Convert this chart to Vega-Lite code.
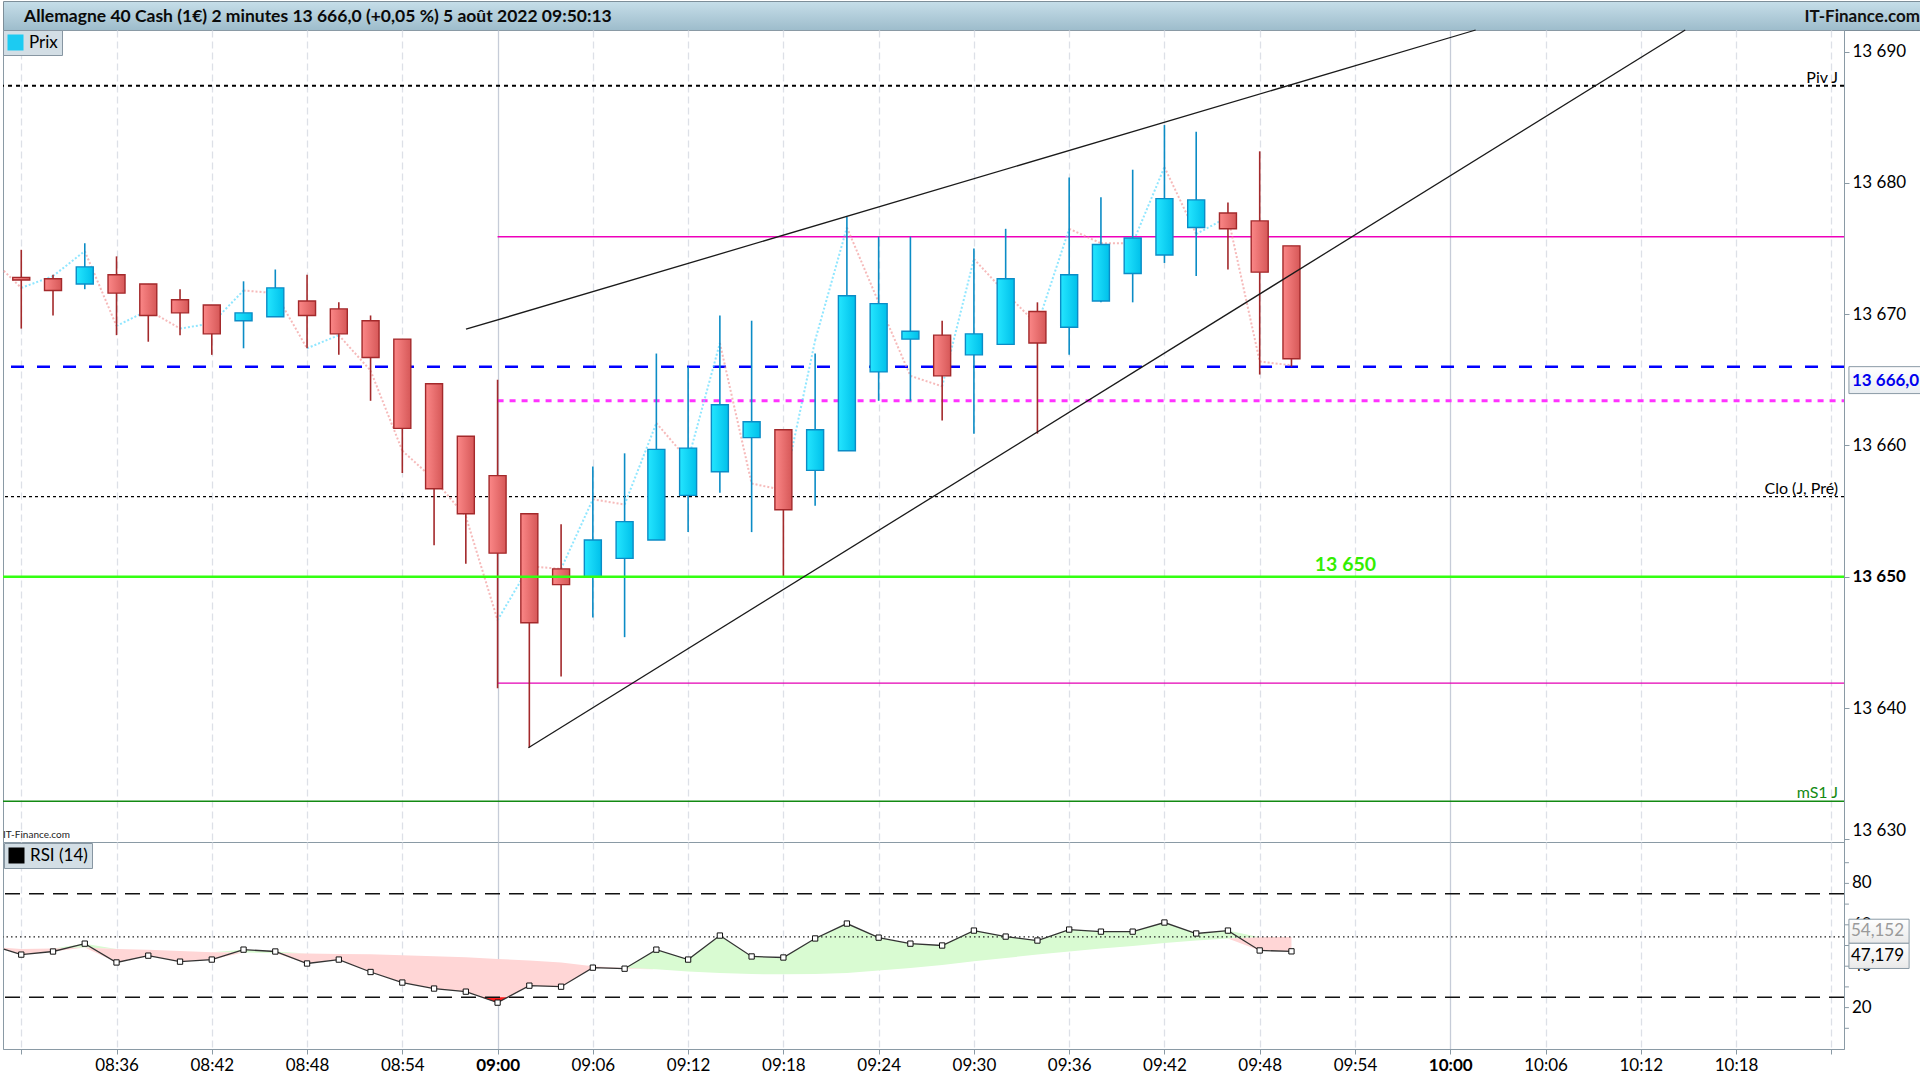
{
  "$schema": "https://vega.github.io/schema/vega-lite/v6.json",
  "padding": 0,
  "spacing": 0,
  "bounds": "flush",
  "background": "white",
  "datasets": {
    "bougies": [
      {"t": 510, "o": 13672.8, "h": 13674.9, "l": 13668.9, "c": 13672.6},
      {"t": 512, "o": 13672.7, "h": 13673.0, "l": 13669.9, "c": 13671.8},
      {"t": 514, "o": 13672.3, "h": 13675.4, "l": 13671.9, "c": 13673.6},
      {"t": 516, "o": 13673.0, "h": 13674.4, "l": 13668.4, "c": 13671.6},
      {"t": 518, "o": 13672.3, "h": 13672.3, "l": 13667.9, "c": 13669.9},
      {"t": 520, "o": 13671.1, "h": 13671.9, "l": 13668.4, "c": 13670.1},
      {"t": 522, "o": 13670.7, "h": 13670.7, "l": 13666.9, "c": 13668.5},
      {"t": 524, "o": 13669.5, "h": 13672.5, "l": 13667.4, "c": 13670.1},
      {"t": 526, "o": 13669.8, "h": 13673.4, "l": 13669.8, "c": 13672.0},
      {"t": 528, "o": 13671.0, "h": 13673.0, "l": 13667.4, "c": 13669.9},
      {"t": 530, "o": 13670.4, "h": 13670.9, "l": 13666.9, "c": 13668.5},
      {"t": 532, "o": 13669.5, "h": 13669.9, "l": 13663.4, "c": 13666.7},
      {"t": 534, "o": 13668.1, "h": 13668.1, "l": 13657.9, "c": 13661.3},
      {"t": 536, "o": 13664.7, "h": 13664.7, "l": 13652.4, "c": 13656.7},
      {"t": 538, "o": 13660.7, "h": 13660.7, "l": 13651.0, "c": 13654.8},
      {"t": 540, "o": 13657.7, "h": 13665.0, "l": 13641.5, "c": 13651.8},
      {"t": 542, "o": 13654.8, "h": 13654.8, "l": 13637.0, "c": 13646.5},
      {"t": 544, "o": 13650.6, "h": 13654.0, "l": 13642.4, "c": 13649.4},
      {"t": 546, "o": 13650.0, "h": 13658.4, "l": 13646.9, "c": 13652.8},
      {"t": 548, "o": 13651.4, "h": 13659.4, "l": 13645.4, "c": 13654.2},
      {"t": 550, "o": 13652.8, "h": 13667.0, "l": 13652.8, "c": 13659.7},
      {"t": 552, "o": 13656.2, "h": 13666.0, "l": 13653.4, "c": 13659.8},
      {"t": 554, "o": 13658.0, "h": 13669.9, "l": 13656.4, "c": 13663.1},
      {"t": 556, "o": 13660.6, "h": 13669.5, "l": 13653.4, "c": 13661.8},
      {"t": 558, "o": 13661.2, "h": 13661.2, "l": 13650.0, "c": 13655.1},
      {"t": 560, "o": 13658.1, "h": 13667.0, "l": 13655.4, "c": 13661.2},
      {"t": 562, "o": 13659.6, "h": 13677.4, "l": 13659.6, "c": 13671.4},
      {"t": 564, "o": 13665.6, "h": 13675.9, "l": 13663.4, "c": 13670.8},
      {"t": 566, "o": 13668.1, "h": 13675.9, "l": 13663.4, "c": 13668.7},
      {"t": 568, "o": 13668.4, "h": 13669.5, "l": 13661.9, "c": 13665.3},
      {"t": 570, "o": 13666.9, "h": 13675.0, "l": 13660.9, "c": 13668.5},
      {"t": 572, "o": 13667.7, "h": 13676.5, "l": 13667.7, "c": 13672.7},
      {"t": 574, "o": 13670.2, "h": 13670.9, "l": 13660.9, "c": 13667.8},
      {"t": 576, "o": 13669.0, "h": 13680.4, "l": 13666.9, "c": 13673.0},
      {"t": 578, "o": 13671.0, "h": 13678.9, "l": 13670.9, "c": 13675.3},
      {"t": 580, "o": 13673.1, "h": 13681.0, "l": 13670.9, "c": 13675.8},
      {"t": 582, "o": 13674.5, "h": 13684.4, "l": 13673.9, "c": 13678.8},
      {"t": 584, "o": 13676.6, "h": 13683.9, "l": 13672.9, "c": 13678.7},
      {"t": 586, "o": 13677.7, "h": 13678.5, "l": 13673.4, "c": 13676.5},
      {"t": 588, "o": 13677.1, "h": 13682.4, "l": 13665.4, "c": 13673.2},
      {"t": 590, "o": 13675.2, "h": 13675.2, "l": 13666.0, "c": 13666.6}
    ],
    "trace": [
      {"t": 508.9, "v": 13673.3}, {"t": 510, "v": 13672.0}, {"t": 512, "v": 13672.9},
      {"t": 514, "v": 13674.8}, {"t": 516, "v": 13669.1}, {"t": 518, "v": 13670.3},
      {"t": 520, "v": 13668.9}, {"t": 522, "v": 13669.3}, {"t": 524, "v": 13671.8},
      {"t": 526, "v": 13671.6}, {"t": 528, "v": 13667.4}, {"t": 530, "v": 13668.4},
      {"t": 532, "v": 13665.7}, {"t": 534, "v": 13659.6}, {"t": 536, "v": 13657.4},
      {"t": 538, "v": 13654.6}, {"t": 540, "v": 13646.7}, {"t": 542, "v": 13650.8},
      {"t": 544, "v": 13650.6}, {"t": 546, "v": 13655.9}, {"t": 548, "v": 13655.5},
      {"t": 550, "v": 13661.7}, {"t": 552, "v": 13658.9}, {"t": 554, "v": 13667.8},
      {"t": 556, "v": 13657.1}, {"t": 558, "v": 13656.6}, {"t": 560, "v": 13668.0},
      {"t": 562, "v": 13676.6}, {"t": 564, "v": 13670.9}, {"t": 566, "v": 13665.3},
      {"t": 568, "v": 13664.5}, {"t": 570, "v": 13674.2}, {"t": 572, "v": 13671.6},
      {"t": 574, "v": 13669.2}, {"t": 576, "v": 13676.5}, {"t": 578, "v": 13675.4},
      {"t": 580, "v": 13675.4}, {"t": 582, "v": 13681.2}, {"t": 584, "v": 13676.1},
      {"t": 586, "v": 13677.4}, {"t": 588, "v": 13666.4}, {"t": 590, "v": 13666.1}
    ],
    "tendances": [
      {"id": "haut", "t": 538.01, "p": 13668.85},
      {"id": "haut", "t": 601.6, "p": 13691.64},
      {"id": "bas", "t": 541.94, "p": 13636.98},
      {"id": "bas", "t": 614.8, "p": 13691.64}
    ],
    "niveaux": [
      {"nom": "Piv J", "prix": 13687.4, "etiquette": "Piv J"},
      {"nom": "Clo", "prix": 13656.1, "etiquette": "Clo (J, Pré)"},
      {"nom": "mS1 J", "prix": 13632.9, "etiquette": "mS1 J"},
      {"nom": "Cours", "prix": 13666.0},
      {"nom": "Rond", "prix": 13650.0, "etiquette": "13 650"}
    ],
    "seance": [
      {"nom": "Haut", "prix": 13675.9, "debut": 540},
      {"nom": "Milieu", "prix": 13663.4, "debut": 540},
      {"nom": "Bas", "prix": 13641.9, "debut": 540}
    ],
    "rsi": [
      {"t": 508.9, "rsi": 48.2, "ma": 48.9, "bord": true},
      {"t": 510, "rsi": 45.6, "ma": 48.3},
      {"t": 512, "rsi": 47.1, "ma": 48.5},
      {"t": 514, "rsi": 50.9, "ma": 49.0},
      {"t": 516, "rsi": 41.8, "ma": 48.3},
      {"t": 518, "rsi": 45.1, "ma": 47.9},
      {"t": 520, "rsi": 42.2, "ma": 47.4},
      {"t": 522, "rsi": 43.2, "ma": 46.7},
      {"t": 524, "rsi": 48.0, "ma": 46.6},
      {"t": 526, "rsi": 47.1, "ma": 46.4},
      {"t": 528, "rsi": 41.3, "ma": 46.1},
      {"t": 530, "rsi": 43.2, "ma": 45.9},
      {"t": 532, "rsi": 37.2, "ma": 45.8},
      {"t": 534, "rsi": 32.1, "ma": 45.3},
      {"t": 536, "rsi": 29.2, "ma": 44.8},
      {"t": 538, "rsi": 27.7, "ma": 44.3},
      {"t": 540, "rsi": 22.4, "ma": 43.5},
      {"t": 542, "rsi": 30.6, "ma": 42.7},
      {"t": 544, "rsi": 30.1, "ma": 41.8},
      {"t": 546, "rsi": 39.3, "ma": 40.0},
      {"t": 548, "rsi": 38.8, "ma": 39.1},
      {"t": 550, "rsi": 48.0, "ma": 38.5},
      {"t": 552, "rsi": 43.2, "ma": 37.4},
      {"t": 554, "rsi": 54.8, "ma": 36.7},
      {"t": 556, "rsi": 44.7, "ma": 36.2},
      {"t": 558, "rsi": 44.2, "ma": 36.1},
      {"t": 560, "rsi": 53.4, "ma": 36.2},
      {"t": 562, "rsi": 60.6, "ma": 36.7},
      {"t": 564, "rsi": 53.8, "ma": 37.9},
      {"t": 566, "rsi": 50.9, "ma": 39.1},
      {"t": 568, "rsi": 50.0, "ma": 40.6},
      {"t": 570, "rsi": 57.2, "ma": 42.4},
      {"t": 572, "rsi": 54.3, "ma": 44.0},
      {"t": 574, "rsi": 52.4, "ma": 45.6},
      {"t": 576, "rsi": 57.7, "ma": 47.1},
      {"t": 578, "rsi": 56.7, "ma": 48.5},
      {"t": 580, "rsi": 56.7, "ma": 49.8},
      {"t": 582, "rsi": 61.1, "ma": 51.2},
      {"t": 584, "rsi": 55.8, "ma": 52.4},
      {"t": 586, "rsi": 57.2, "ma": 53.4},
      {"t": 588, "rsi": 47.6, "ma": 54.0},
      {"t": 590, "rsi": 47.179, "ma": 54.152}
    ],
    "survente": [
      {"t": 539.05, "v": 25},
      {"t": 540, "v": 22.4},
      {"t": 540.65, "v": 25}
    ],
    "graduations_rsi": [
      {"v": 10}, {"v": 20}, {"v": 30}, {"v": 40}, {"v": 50}, {"v": 60}, {"v": 70}, {"v": 80}, {"v": 90}
    ]
  },
  "vconcat": [
    {
      "width": 1920,
      "height": 29,
      "view": {
        "fill": {"gradient": "linear", "x1": 0, "y1": 0, "x2": 0, "y2": 1, "stops": [{"offset": 0, "color": "#c6dee9"}, {"offset": 1, "color": "#9dbccb"}]},
        "stroke": "#7d8e99"
      },
      "layer": [
        {
          "data": {"values": [{"texte": "Allemagne 40 Cash (1€) 2 minutes 13 666,0 (+0,05 %) 5 août 2022 09:50:13"}]},
          "mark": {"type": "text", "align": "left", "baseline": "middle", "dx": 21, "dy": 1, "fontSize": 17.5, "fontWeight": "bold", "color": "#0a0a0a"},
          "encoding": {
            "text": {"field": "texte"},
            "x": {"datum": 0, "type": "quantitative", "scale": {"domain": [0, 1]}, "axis": null}
          }
        },
        {
          "data": {"values": [{"texte": "IT-Finance.com"}]},
          "mark": {"type": "text", "align": "right", "baseline": "middle", "dx": -3, "dy": 1, "fontSize": 17, "fontWeight": "bold", "color": "#111111"},
          "encoding": {
            "text": {"field": "texte"},
            "x": {"datum": 1, "type": "quantitative", "scale": {"domain": [0, 1]}, "axis": null}
          }
        }
      ]
    },
    {
      "width": 1841,
      "height": 812,
      "title": {"text": "IT-Finance.com", "orient": "bottom", "anchor": "start", "frame": "group", "offset": -12, "fontSize": 10, "fontWeight": "normal", "color": "#222222"},
      "view": {"stroke": "#8a9aa5"},
      "layer": [
        {
          "data": {"name": "bougies"},
          "mark": {"type": "rule", "strokeWidth": 0},
          "encoding": {
            "x": {"field": "t", "type": "quantitative", "title": null,
              "scale": {"domain": [508.85, 624.8], "nice": false, "zero": false, "padding": 0},
              "axis": {"values": [510, 516, 522, 528, 534, 540, 546, 552, 558, 564, 570, 576, 582, 588, 594, 600, 606, 612, 618, 624],
                "labels": false, "ticks": false, "domain": false, "grid": true, "gridWidth": 1.3,
                "gridColor": {"condition": {"test": "datum.value % 60 == 0", "value": "#c6ccd8"}, "value": "#dde0e7"},
                "gridDash": {"condition": {"test": "datum.value % 60 == 0", "value": [1, 0]}, "value": [7, 4]}}},
            "y": {"field": "h", "type": "quantitative", "title": null,
              "scale": {"domain": [13629.8, 13691.64], "nice": false, "zero": false, "padding": 0},
              "axis": {"orient": "right", "values": [13630, 13640, 13650, 13660, 13670, 13680, 13690],
                "labelExpr": "replace(format(datum.value, ','), ',', ' ')",
                "labelFontWeight": {"condition": {"test": "datum.value == 13650", "value": "bold"}, "value": "normal"},
                "labelFontSize": 17, "labelColor": "#000000", "labelPadding": 3, "labelFlush": 10, "labelOverlap": false,
                "tickSize": 5, "tickColor": "#8a9aa5", "domainColor": "#8a9aa5", "grid": false}}
          }
        },
        {
          "data": {"values": [{"serie": "Prix"}]},
          "mark": {"type": "point", "filled": true, "opacity": 0},
          "encoding": {
            "color": {
              "field": "serie", "type": "nominal",
              "scale": {"domain": ["Prix"], "range": ["#1ccbf2"]},
              "legend": {"orient": "top-left", "offset": 0, "title": null, "fillColor": "#d3dee5", "strokeColor": "#8796a2", "padding": 4, "symbolType": "square", "symbolSize": 256, "symbolStrokeWidth": 0, "symbolOpacity": 1, "labelFontSize": 17, "labelOffset": 5, "labelColor": "#000000"}
            }
          }
        },
        {
          "data": {"name": "niveaux"},
          "transform": [{"filter": "datum.nom == 'Piv J'"}],
          "mark": {"type": "rule", "color": "#000000", "strokeWidth": 2, "strokeDash": [4, 4]},
          "encoding": {"y": {"field": "prix", "type": "quantitative", "scale": {"domain": [13629.8, 13691.64], "nice": false, "zero": false, "padding": 0}}}
        },
        {
          "data": {"name": "niveaux"},
          "transform": [{"filter": "datum.nom == 'Clo'"}],
          "mark": {"type": "rule", "color": "#000000", "strokeWidth": 1.3, "strokeDash": [3, 3]},
          "encoding": {"y": {"field": "prix", "type": "quantitative", "scale": {"domain": [13629.8, 13691.64], "nice": false, "zero": false, "padding": 0}}}
        },
        {
          "data": {"name": "niveaux"},
          "transform": [{"filter": "datum.nom == 'mS1 J'"}],
          "mark": {"type": "rule", "color": "#138a13", "strokeWidth": 1.5},
          "encoding": {"y": {"field": "prix", "type": "quantitative", "scale": {"domain": [13629.8, 13691.64], "nice": false, "zero": false, "padding": 0}}}
        },
        {
          "data": {"name": "niveaux"},
          "transform": [{"filter": "datum.nom == 'Cours'"}],
          "mark": {"type": "rule", "color": "#0000ff", "strokeWidth": 2.5, "strokeDash": [13, 13]},
          "encoding": {"y": {"field": "prix", "type": "quantitative", "scale": {"domain": [13629.8, 13691.64], "nice": false, "zero": false, "padding": 0}}}
        },
        {
          "data": {"name": "seance"},
          "transform": [{"filter": "datum.nom == 'Haut'"}],
          "mark": {"type": "rule", "color": "#ee00bb", "strokeWidth": 1.4},
          "encoding": {
            "x": {"field": "debut", "type": "quantitative", "scale": {"domain": [508.85, 624.8], "nice": false, "zero": false, "padding": 0}},
            "x2": {"datum": 624.8},
            "y": {"field": "prix", "type": "quantitative", "scale": {"domain": [13629.8, 13691.64], "nice": false, "zero": false, "padding": 0}}
          }
        },
        {
          "data": {"name": "seance"},
          "transform": [{"filter": "datum.nom == 'Milieu'"}],
          "mark": {"type": "rule", "color": "#ff33ff", "strokeWidth": 3, "strokeDash": [6, 6]},
          "encoding": {
            "x": {"field": "debut", "type": "quantitative", "scale": {"domain": [508.85, 624.8], "nice": false, "zero": false, "padding": 0}},
            "x2": {"datum": 624.8},
            "y": {"field": "prix", "type": "quantitative", "scale": {"domain": [13629.8, 13691.64], "nice": false, "zero": false, "padding": 0}}
          }
        },
        {
          "data": {"name": "seance"},
          "transform": [{"filter": "datum.nom == 'Bas'"}],
          "mark": {"type": "rule", "color": "#e400b4", "strokeWidth": 1.4},
          "encoding": {
            "x": {"field": "debut", "type": "quantitative", "scale": {"domain": [508.85, 624.8], "nice": false, "zero": false, "padding": 0}},
            "x2": {"datum": 624.8},
            "y": {"field": "prix", "type": "quantitative", "scale": {"domain": [13629.8, 13691.64], "nice": false, "zero": false, "padding": 0}}
          }
        },
        {
          "data": {"name": "trace"},
          "transform": [
            {"window": [{"op": "lead", "field": "v", "as": "v2"}, {"op": "lead", "field": "t", "as": "t2"}], "sort": [{"field": "t", "order": "ascending"}]},
            {"filter": "datum.t2 != null"}
          ],
          "mark": {"type": "rule", "strokeDash": [2, 2], "strokeWidth": 2, "opacity": 0.7},
          "encoding": {
            "x": {"field": "t", "type": "quantitative", "scale": {"domain": [508.85, 624.8], "nice": false, "zero": false, "padding": 0}},
            "x2": {"field": "t2"},
            "y": {"field": "v", "type": "quantitative", "scale": {"domain": [13629.8, 13691.64], "nice": false, "zero": false, "padding": 0}},
            "y2": {"field": "v2"},
            "color": {"condition": {"test": "datum.v2 > datum.v", "value": "#5fdcff"}, "value": "#f29c9c"}
          }
        },
        {
          "data": {"name": "bougies"},
          "mark": {"type": "rule", "strokeWidth": 1.6},
          "encoding": {
            "x": {"field": "t", "type": "quantitative", "scale": {"domain": [508.85, 624.8], "nice": false, "zero": false, "padding": 0}},
            "y": {"field": "h", "type": "quantitative", "scale": {"domain": [13629.8, 13691.64], "nice": false, "zero": false, "padding": 0}},
            "y2": {"field": "l"},
            "color": {"condition": {"test": "datum.c >= datum.o", "value": "#0b8cc6"}, "value": "#a3292b"}
          }
        },
        {
          "data": {"name": "bougies"},
          "transform": [{"filter": "datum.c < datum.o"}],
          "mark": {"type": "bar", "width": 17, "stroke": "#a3292b", "strokeWidth": 1.4,
            "fill": {"gradient": "linear", "x1": 0, "y1": 0, "x2": 1, "y2": 0, "stops": [{"offset": 0, "color": "#fb8787"}, {"offset": 1, "color": "#d65858"}]}},
          "encoding": {
            "x": {"field": "t", "type": "quantitative", "scale": {"domain": [508.85, 624.8], "nice": false, "zero": false, "padding": 0}},
            "y": {"field": "o", "type": "quantitative", "scale": {"domain": [13629.8, 13691.64], "nice": false, "zero": false, "padding": 0}},
            "y2": {"field": "c"}
          }
        },
        {
          "data": {"name": "bougies"},
          "transform": [{"filter": "datum.c >= datum.o"}],
          "mark": {"type": "bar", "width": 17, "stroke": "#0b8cc6", "strokeWidth": 1.4,
            "fill": {"gradient": "linear", "x1": 0, "y1": 0, "x2": 1, "y2": 0, "stops": [{"offset": 0, "color": "#24e6ff"}, {"offset": 1, "color": "#00c0ea"}]}},
          "encoding": {
            "x": {"field": "t", "type": "quantitative", "scale": {"domain": [508.85, 624.8], "nice": false, "zero": false, "padding": 0}},
            "y": {"field": "o", "type": "quantitative", "scale": {"domain": [13629.8, 13691.64], "nice": false, "zero": false, "padding": 0}},
            "y2": {"field": "c"}
          }
        },
        {
          "data": {"name": "niveaux"},
          "transform": [{"filter": "datum.nom == 'Rond'"}],
          "mark": {"type": "rule", "color": "#33ff11", "strokeWidth": 2.5},
          "encoding": {"y": {"field": "prix", "type": "quantitative", "scale": {"domain": [13629.8, 13691.64], "nice": false, "zero": false, "padding": 0}}}
        },
        {
          "data": {"name": "tendances"},
          "mark": {"type": "line", "color": "#1a1a1a", "strokeWidth": 1.3},
          "encoding": {
            "x": {"field": "t", "type": "quantitative", "scale": {"domain": [508.85, 624.8], "nice": false, "zero": false, "padding": 0}},
            "y": {"field": "p", "type": "quantitative", "scale": {"domain": [13629.8, 13691.64], "nice": false, "zero": false, "padding": 0}},
            "detail": {"field": "id"}
          }
        },
        {
          "data": {"name": "niveaux"},
          "transform": [{"filter": "datum.nom == 'Piv J' || datum.nom == 'Clo' || datum.nom == 'mS1 J'"}],
          "mark": {"type": "text", "align": "right", "baseline": "alphabetic", "dx": -6, "dy": -3, "fontSize": 16},
          "encoding": {
            "x": {"datum": 624.8},
            "y": {"field": "prix", "type": "quantitative", "scale": {"domain": [13629.8, 13691.64], "nice": false, "zero": false, "padding": 0}},
            "text": {"field": "etiquette"},
            "color": {"condition": {"test": "datum.nom == 'mS1 J'", "value": "#138a13"}, "value": "#000000"}
          }
        },
        {
          "data": {"name": "niveaux"},
          "transform": [{"filter": "datum.nom == 'Rond'"}],
          "mark": {"type": "text", "align": "center", "baseline": "alphabetic", "dy": -6, "fontSize": 19.5, "fontWeight": "bold", "color": "#33ee00"},
          "encoding": {
            "x": {"datum": 593.4},
            "y": {"field": "prix", "type": "quantitative", "scale": {"domain": [13629.8, 13691.64], "nice": false, "zero": false, "padding": 0}},
            "text": {"field": "etiquette"}
          }
        },
        {
          "data": {"values": [{"prix": 13666.0, "texte": "13 666,0"}]},
          "mark": {"type": "rect", "stroke": "#8a9aa5", "strokeWidth": 1,
            "fill": {"gradient": "linear", "x1": 0, "y1": 0, "x2": 0, "y2": 1, "stops": [{"offset": 0, "color": "#ffffff"}, {"offset": 1, "color": "#e8edf1"}]}},
          "encoding": {
            "x": {"datum": 625.11},
            "x2": {"datum": 629.75},
            "y": {"field": "prix", "type": "quantitative", "scale": {"domain": [13629.8, 13691.64], "nice": false, "zero": false, "padding": 0}},
            "y2": {"datum": 13663.95}
          }
        },
        {
          "data": {"values": [{"prix": 13666.0, "texte": "13 666,0"}]},
          "mark": {"type": "text", "align": "left", "baseline": "middle", "dx": 3, "dy": 14, "fontSize": 17, "fontWeight": "bold", "color": "#0000ee"},
          "encoding": {
            "x": {"datum": 625.11},
            "y": {"field": "prix", "type": "quantitative", "scale": {"domain": [13629.8, 13691.64], "nice": false, "zero": false, "padding": 0}},
            "text": {"field": "texte"}
          }
        }
      ]
    },
    {
      "width": 1841,
      "height": 207,
      "view": {"stroke": "#8a9aa5"},
      "layer": [
        {
          "data": {"name": "rsi"},
          "mark": {"type": "rule", "strokeWidth": 0},
          "encoding": {
            "x": {"field": "t", "type": "quantitative", "title": null,
              "scale": {"domain": [508.85, 624.8], "nice": false, "zero": false, "padding": 0},
              "axis": {"orient": "bottom", "values": [510, 516, 522, 528, 534, 540, 546, 552, 558, 564, 570, 576, 582, 588, 594, 600, 606, 612, 618, 624],
                "labelExpr": "datum.value < 512 || datum.value > 620 ? '' : format(floor(datum.value / 60), '02d') + ':' + format(datum.value % 60, '02d')",
                "labelFontWeight": {"condition": {"test": "datum.value % 60 == 0", "value": "bold"}, "value": "normal"},
                "labelFontSize": 17, "labelColor": "#000000", "labelPadding": 3, "labelOverlap": false,
                "tickSize": 5, "tickColor": "#8a9aa5", "domainColor": "#8a9aa5",
                "grid": true, "gridWidth": 1.3,
                "gridColor": {"condition": {"test": "datum.value % 60 == 0", "value": "#c6ccd8"}, "value": "#dde0e7"},
                "gridDash": {"condition": {"test": "datum.value % 60 == 0", "value": [1, 0]}, "value": [7, 4]}}},
            "y": {"field": "rsi", "type": "quantitative", "title": null, "axis": null,
              "scale": {"domain": [0, 100], "nice": false, "zero": false, "padding": 0}}
          }
        },
        {
          "data": {"values": [{"serie": "RSI (14)"}]},
          "mark": {"type": "point", "filled": true, "opacity": 0},
          "encoding": {
            "color": {
              "field": "serie", "type": "nominal",
              "scale": {"domain": ["RSI (14)"], "range": ["#000000"]},
              "legend": {"orient": "top-left", "offset": 1, "title": null, "fillColor": "#d3dee5", "strokeColor": "#8796a2", "padding": 4, "symbolType": "square", "symbolSize": 256, "symbolStrokeWidth": 0, "symbolOpacity": 1, "labelFontSize": 17, "labelOffset": 5, "labelColor": "#000000"}
            }
          }
        },
        {
          "data": {"name": "rsi"},
          "transform": [
            {"fold": ["rsi", "ma"], "as": ["serie", "valeur"]},
            {"aggregate": [{"op": "max", "field": "valeur", "as": "haut"}, {"op": "min", "field": "valeur", "as": "bas"}, {"op": "mean", "field": "ma", "as": "moy"}], "groupby": ["t"]}
          ],
          "mark": {"type": "area", "color": "#d9fbd2"},
          "encoding": {
            "x": {"field": "t", "type": "quantitative", "scale": {"domain": [508.85, 624.8], "nice": false, "zero": false, "padding": 0}},
            "y": {"field": "haut", "type": "quantitative", "scale": {"domain": [0, 100], "nice": false, "zero": false, "padding": 0}},
            "y2": {"field": "moy"}
          }
        },
        {
          "data": {"name": "rsi"},
          "transform": [
            {"fold": ["rsi", "ma"], "as": ["serie", "valeur"]},
            {"aggregate": [{"op": "max", "field": "valeur", "as": "haut"}, {"op": "min", "field": "valeur", "as": "bas"}, {"op": "mean", "field": "ma", "as": "moy"}], "groupby": ["t"]}
          ],
          "mark": {"type": "area", "color": "#ffd6d6"},
          "encoding": {
            "x": {"field": "t", "type": "quantitative", "scale": {"domain": [508.85, 624.8], "nice": false, "zero": false, "padding": 0}},
            "y": {"field": "bas", "type": "quantitative", "scale": {"domain": [0, 100], "nice": false, "zero": false, "padding": 0}},
            "y2": {"field": "moy"}
          }
        },
        {
          "data": {"name": "survente"},
          "mark": {"type": "area", "color": "#ff1a1a"},
          "encoding": {
            "x": {"field": "t", "type": "quantitative", "scale": {"domain": [508.85, 624.8], "nice": false, "zero": false, "padding": 0}},
            "y": {"field": "v", "type": "quantitative", "scale": {"domain": [0, 100], "nice": false, "zero": false, "padding": 0}},
            "y2": {"datum": 25}
          }
        },
        {
          "data": {"values": [{"niveau": 75}, {"niveau": 25}]},
          "mark": {"type": "rule", "color": "#111111", "strokeWidth": 1.4, "strokeDash": [15, 9]},
          "encoding": {"y": {"field": "niveau", "type": "quantitative", "scale": {"domain": [0, 100], "nice": false, "zero": false, "padding": 0}}}
        },
        {
          "data": {"values": [{"niveau": 54.152}]},
          "mark": {"type": "rule", "color": "#222222", "strokeWidth": 1.2, "strokeDash": [1.5, 3]},
          "encoding": {"y": {"field": "niveau", "type": "quantitative", "scale": {"domain": [0, 100], "nice": false, "zero": false, "padding": 0}}}
        },
        {
          "data": {"name": "rsi"},
          "mark": {"type": "line", "color": "#333333", "strokeWidth": 1.3},
          "encoding": {
            "x": {"field": "t", "type": "quantitative", "scale": {"domain": [508.85, 624.8], "nice": false, "zero": false, "padding": 0}},
            "y": {"field": "rsi", "type": "quantitative", "scale": {"domain": [0, 100], "nice": false, "zero": false, "padding": 0}}
          }
        },
        {
          "data": {"name": "rsi"},
          "transform": [{"filter": "datum.bord != true"}],
          "mark": {"type": "point", "shape": "square", "size": 28, "filled": true, "fill": "#ffffff", "stroke": "#111111", "strokeWidth": 1, "opacity": 1},
          "encoding": {
            "x": {"field": "t", "type": "quantitative", "scale": {"domain": [508.85, 624.8], "nice": false, "zero": false, "padding": 0}},
            "y": {"field": "rsi", "type": "quantitative", "scale": {"domain": [0, 100], "nice": false, "zero": false, "padding": 0}}
          }
        },
        {
          "data": {"name": "graduations_rsi"},
          "mark": {"type": "rule", "color": "#8a9aa5", "strokeWidth": 1},
          "encoding": {
            "x": {"datum": 624.8},
            "x2": {"datum": 625.11},
            "y": {"field": "v", "type": "quantitative", "scale": {"domain": [0, 100], "nice": false, "zero": false, "padding": 0}}
          }
        },
        {
          "data": {"name": "graduations_rsi"},
          "transform": [{"filter": "datum.v % 20 == 0"}],
          "mark": {"type": "text", "align": "left", "baseline": "middle", "dx": 3, "fontSize": 17, "color": "#000000"},
          "encoding": {
            "x": {"datum": 625.11},
            "y": {"field": "v", "type": "quantitative", "scale": {"domain": [0, 100], "nice": false, "zero": false, "padding": 0}},
            "text": {"field": "v", "type": "quantitative", "format": "d"}
          }
        },
        {
          "data": {"values": [{"haut": 62.7, "bas": 51.06}, {"haut": 51.06, "bas": 38.9}]},
          "mark": {"type": "rect", "stroke": "#8a9aa5", "strokeWidth": 1,
            "fill": {"gradient": "linear", "x1": 0, "y1": 0, "x2": 0, "y2": 1, "stops": [{"offset": 0, "color": "#ffffff"}, {"offset": 1, "color": "#e9e9e9"}]}},
          "encoding": {
            "x": {"datum": 625.11},
            "x2": {"datum": 628.9},
            "y": {"field": "haut", "type": "quantitative", "scale": {"domain": [0, 100], "nice": false, "zero": false, "padding": 0}},
            "y2": {"field": "bas"}
          }
        },
        {
          "data": {"values": [{"pos": 56.9, "texte": "54,152", "role": "moyenne"}, {"pos": 45.0, "texte": "47,179", "role": "rsi"}]},
          "mark": {"type": "text", "align": "left", "baseline": "middle", "dx": 2, "fontSize": 17},
          "encoding": {
            "x": {"datum": 625.11},
            "y": {"field": "pos", "type": "quantitative", "scale": {"domain": [0, 100], "nice": false, "zero": false, "padding": 0}},
            "text": {"field": "texte"},
            "color": {"condition": {"test": "datum.role == 'moyenne'", "value": "#9a9a9a"}, "value": "#000000"}
          }
        }
      ]
    }
  ],
  "resolve": {"scale": {"color": "independent"}, "legend": {"color": "independent"}},
  "config": {
    "font": "Lato",
    "view": {"stroke": "#8a9aa5"},
    "axis": {"labelFont": "Lato"},
    "legend": {"labelFont": "Lato"},
    "title": {"font": "Lato"},
    "text": {"font": "Lato"}
  }
}
